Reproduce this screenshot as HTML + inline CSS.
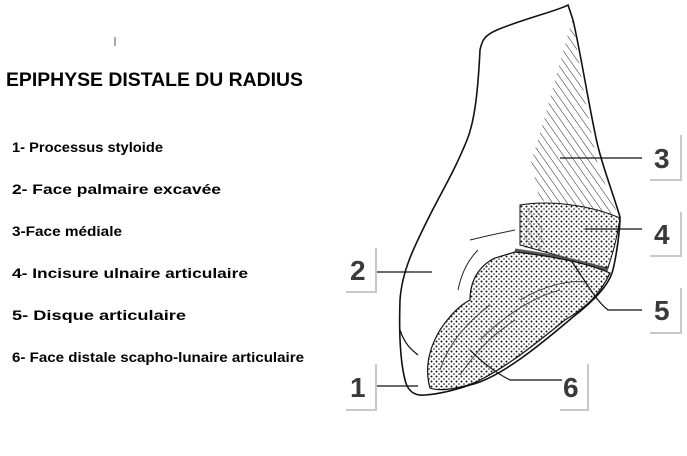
<!DOCTYPE html>
<html><head><meta charset="utf-8"><style>
html,body{margin:0;padding:0;background:#fff;width:687px;height:456px;overflow:hidden}
svg{display:block}
.t{font-family:"Liberation Sans",sans-serif;font-weight:bold;fill:#000}
.n{font-family:"Liberation Sans",sans-serif;font-weight:bold;font-size:28px;fill:#3a3a3a}
</style></head><body>
<svg width="687" height="456" viewBox="0 0 687 456">
<defs>
<pattern id="dots" width="5" height="5" patternUnits="userSpaceOnUse"><circle cx="1.5" cy="1.5" r="1" fill="#111"/><circle cx="4" cy="4" r="0.8" fill="#111"/></pattern>
<pattern id="hatch" width="6" height="6" patternUnits="userSpaceOnUse" patternTransform="rotate(-35)"><line x1="0" y1="0" x2="0" y2="6" stroke="#222" stroke-width="1"/></pattern>
</defs>
<line x1="115" y1="37" x2="115" y2="46" stroke="#555" stroke-width="1"/>
<text class="t" x="6" y="86" font-size="19" textLength="297" lengthAdjust="spacingAndGlyphs">EPIPHYSE DISTALE DU RADIUS</text>
<g class="t" font-size="13.5">
<text x="12" y="152" textLength="151" lengthAdjust="spacingAndGlyphs">1- Processus styloide</text>
<text x="12" y="194" textLength="209" lengthAdjust="spacingAndGlyphs">2- Face palmaire excavée</text>
<text x="12" y="236" textLength="110" lengthAdjust="spacingAndGlyphs">3-Face médiale</text>
<text x="12" y="278" textLength="236" lengthAdjust="spacingAndGlyphs">4- Incisure ulnaire articulaire</text>
<text x="12" y="320" textLength="174" lengthAdjust="spacingAndGlyphs">5- Disque articulaire</text>
<text x="12" y="362" textLength="292" lengthAdjust="spacingAndGlyphs">6- Face distale scapho-lunaire articulaire</text>
</g>
<path d="M568,5 C560,10 520,20 497,30 C485,35 482,40 480,50 C478,90 475,120 467,140 C455,170 440,195 430,215 C415,245 402,270 400,300 C399,330 400,360 405,380 C408,392 415,396 425,395 C440,394 455,390 470,385 C500,378 540,345 573,317 C595,300 608,285 612,273 C616,260 620,230 620,217 C612,190 600,160 595,133 C588,100 580,50 573,20 Z" fill="#fff" stroke="#111" stroke-width="1.6"/>
<path d="M400,330 C405,345 412,350 418,355" fill="none" stroke="#111" stroke-width="1.2"/>
<path d="M573,18 C578,60 588,120 598,165 C605,185 612,200 618,215 L540,200 C535,185 535,170 530,165 C545,120 560,60 573,18 Z" fill="url(#hatch)"/>
<line x1="560" y1="158" x2="642" y2="158" stroke="#111" stroke-width="1.2"/>
<path d="M520,205 C550,200 590,205 620,218 C617,240 612,255 608,268 C580,262 545,252 520,245 Z" fill="url(#dots)" stroke="#111" stroke-width="1"/>
<path d="M522,210 L540,205 L545,250 L525,248 Z" fill="url(#hatch)" opacity="0.8"/>
<line x1="585" y1="229" x2="642" y2="229" stroke="#111" stroke-width="1.2"/>
<path d="M515,250 C550,255 585,262 608,270" fill="none" stroke="#555" stroke-width="3"/>
<path d="M572,262 C585,280 595,300 608,310 L642,310" fill="none" stroke="#111" stroke-width="1.2"/>
<path d="M515,252 C550,256 585,262 610,273 C600,295 585,308 565,320 C540,340 510,365 480,380 C465,388 440,392 430,388 C425,370 428,350 440,330 C450,315 460,305 470,300 C470,280 480,265 495,258 Z" fill="url(#dots)" stroke="#111" stroke-width="1.2"/>
<path d="M440,370 C450,340 470,320 490,305 M460,375 C480,345 500,330 515,320 M480,340 C510,310 540,295 560,290 M520,300 C545,285 570,280 585,282" fill="none" stroke="#333" stroke-width="0.8"/>
<path d="M478,250 C470,258 462,270 458,290 M470,240 C490,235 505,232 515,230" fill="none" stroke="#222" stroke-width="1"/>
<path d="M470,350 C485,365 500,375 510,380 L562,380" fill="none" stroke="#111" stroke-width="1.2"/>
<line x1="375" y1="272" x2="432" y2="272" stroke="#111" stroke-width="1.2"/>
<line x1="375" y1="386" x2="418" y2="386" stroke="#111" stroke-width="1.2"/>
<g fill="none" stroke="#c8c8c8" stroke-width="2">
<path d="M376,248 L376,292 L346,292"/>
<path d="M376,364 L376,410 L346,410"/>
<path d="M588,364 L588,410 L560,410"/>
<path d="M681,135 L681,180 L650,180"/>
<path d="M681,212 L681,256 L650,256"/>
<path d="M681,288 L681,333 L650,333"/>
</g>
<text class="n" x="350" y="280">2</text>
<text class="n" x="350" y="397">1</text>
<text class="n" x="563" y="397">6</text>
<text class="n" x="654" y="168">3</text>
<text class="n" x="654" y="244">4</text>
<text class="n" x="654" y="320">5</text>
</svg>
</body></html>
